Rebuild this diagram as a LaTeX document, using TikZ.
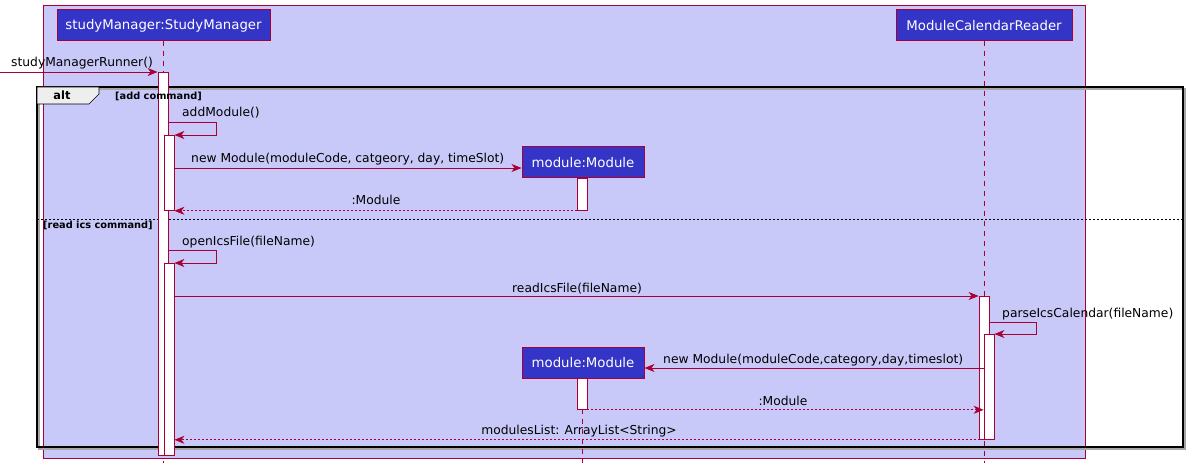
\documentclass[tikz,border=0pt]{standalone}
\usepackage{fontspec}
\setmainfont{DejaVu Sans}
\usetikzlibrary{arrows.meta}

\definecolor{umlred}{HTML}{A80036}
\definecolor{umlback}{HTML}{C9C9F9}
\definecolor{umlblue}{HTML}{3434C6}
\definecolor{umlgrey}{HTML}{EEEEEE}

\tikzset{
  participant/.style={draw=umlred, fill=umlblue, text=white, line width=1pt, inner sep=0pt,
    minimum height=31pt, font=\fontsize{13.3}{15}\selectfont},
  actbar/.style={draw=umlred, fill=white, line width=0.8pt, minimum width=10pt, inner sep=0pt, anchor=north},
  lifeline/.style={umlred, line width=0.8pt, dash pattern=on 5pt off 5pt},
  msg/.style={umlred, line width=0.8pt, -{Stealth[length=10pt,width=8pt,inset=3pt]}},
  ret/.style={msg, dash pattern=on 2pt off 2pt},
  msglabel/.style={font=\fontsize{12.3}{14}\selectfont, inner sep=0pt},
  guard/.style={font=\bfseries\fontsize{9.8}{11}\selectfont, inner sep=0pt, anchor=base west}
}

\begin{document}
\begin{tikzpicture}[x=1pt,y=-1pt]
            \def\smx{163}
            \def\modx{582}
            \def\mcrx{984}

            \useasboundingbox (0,0) rectangle (1190,470);

            % diagram frame
            \draw[umlred, fill=umlback, line width=1pt] (43,6) rectangle (1085,458);

            % alt fragment
            \draw[black!35, line width=1.5pt] (39,89) rectangle (1185,449);
            \draw[black, line width=1.5pt] (37,87) rectangle (1183,447);
            \draw[black, fill=umlgrey, line width=0.6pt] (37,87) -- (99,87) -- (99,94) -- (89,104) -- (37,104) -- cycle;
            \node[inner sep=0pt, anchor=base, font=\bfseries\fontsize{11.4}{13}\selectfont] (altlbl) at (62,100) {alt};
            \draw[black, line width=0.6pt, dash pattern=on 2pt off 2pt] (37,219) -- (1183,219);

            % lifelines
            \draw[lifeline] (\smx,41) -- (\smx,463);
            \draw[lifeline] (\mcrx,41) -- (\mcrx,463);
            \draw[lifeline] (\modx,409) -- (\modx,463);

            % participants
            \node[participant, minimum width=213pt] (sm) at (163.5,25.5) {studyManager:StudyManager};
            \node[participant, minimum width=176pt] (mcr) at (984,25.5) {ModuleCalendarReader};
            \node[participant, minimum width=122pt] (mod1) at (583,162.5) {module:Module};
            \node[participant, minimum width=122pt] (mod2) at (583,362.5) {module:Module};

            % activations
            \node[actbar, minimum height=383pt] (smbar) at (\smx,72) {};
            \node[actbar, minimum height=75pt] (addbar) at (169,135) {};
            \node[actbar, minimum height=192pt] (openbar) at (169,263) {};
            \node[actbar, minimum height=32pt] (mod1bar) at (\modx,178) {};
            \node[actbar, minimum height=31pt] (mod2bar) at (\modx,378) {};
            \node[actbar, minimum height=143pt] (mcrbar) at (\mcrx,296) {};
            \node[actbar, minimum height=105pt] (parsebar) at (989,334) {};

            % guards
            \node[guard] (addguard) at (115,100) {[add command]};
            \node[guard] (readguard) at (43,229) {[read ics command]};

            % messages
            \coordinate (runner) at (0,72);
            \draw[msg] (runner) -- (smbar.north west);
            \node[msglabel, anchor=base west] (runnerlbl) at (11,67) {studyManagerRunner()};

            \draw[msg] (smbar.east |- 0,122) -- ++(48,0) |- (addbar.north east);
            \node[msglabel, anchor=base west] (addlbl) at (182,117) {addModule()};

            \draw[msg] (addbar.east |- 0,168) -- (mod1.west |- 0,168);
            \node[msglabel, anchor=base west] (newlbl) at (191,163) {new Module(moduleCode, catgeory, day, timeSlot)};

            \draw[ret] (mod1bar.south west) -- (addbar.south east);
            \node[msglabel, anchor=base] (ret1lbl) at (376,205) {:Module};

            \draw[msg] (smbar.east |- 0,250) -- ++(48,0) |- (openbar.north east);
            \node[msglabel, anchor=base west] (openlbl) at (182,245) {openIcsFile(fileName)};

            \draw[msg] (openbar.east |- mcrbar.north) -- (mcrbar.north west);
            \node[msglabel, anchor=base] (readlbl) at (577,292) {readIcsFile(fileName)};

            \draw[msg] (mcrbar.east |- 0,322) -- ++(47,0) |- (parsebar.north east);
            \node[msglabel, anchor=base west] (parselbl) at (1002,317) {parseIcsCalendar(fileName)};

            \draw[msg] (parsebar.west |- 0,368) -- (mod2.east |- 0,368);
            \node[msglabel, anchor=base west] (new2lbl) at (663,363) {new Module(moduleCode,category,day,timeslot)};

            \draw[ret] (mod2bar.south east) -- (parsebar.west |- mod2bar.south);
            \node[msglabel, anchor=base] (ret2lbl) at (783,405) {:Module};

            \draw[ret] (parsebar.south west) -- (openbar.east |- parsebar.south);
            \node[msglabel, anchor=base] (listlbl) at (579,434) {modulesList: ArrayList<String>};
          \end{tikzpicture}
\end{document}
